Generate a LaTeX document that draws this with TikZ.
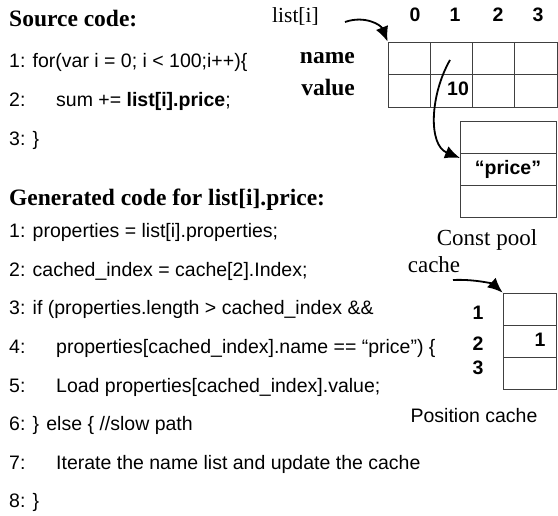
\documentclass[tikz,border=0pt]{standalone}
\usepackage{fontspec}
\setmainfont{Liberation Serif}
\setsansfont{Liberation Sans}
\usetikzlibrary{arrows.meta,calc}
\begin{document}
\begin{tikzpicture}[x=1pt,y=-1pt,
  code/.style={anchor=base west,inner sep=0pt,font=\sffamily\fontsize{19.5}{23}\selectfont},
  heading/.style={anchor=base west,inner sep=0pt,font=\rmfamily\bfseries\fontsize{23.5}{27}\selectfont},
  serif/.style={anchor=base,inner sep=0pt,font=\rmfamily\fontsize{23}{27}\selectfont},
  bserif/.style={anchor=base east,inner sep=0pt,font=\rmfamily\bfseries\fontsize{23.5}{27}\selectfont},
  bsans/.style={anchor=base,inner sep=0pt,font=\sffamily\bfseries\fontsize{19.5}{23}\selectfont},
  sans/.style={anchor=base,inner sep=0pt,font=\sffamily\fontsize{19.5}{23}\selectfont},
  cell/.style={draw=black!75,line width=0.8pt,rectangle,inner sep=0pt,minimum width=42.25pt,minimum height=32.5pt},
  pcell/.style={draw=black!75,line width=0.8pt,rectangle,inner sep=0pt,minimum width=96pt,minimum height=32pt,font=\sffamily\bfseries\fontsize{19.5}{23}\selectfont},
  ccell/.style={draw=black!75,line width=0.8pt,rectangle,inner sep=0pt,minimum width=53pt,minimum height=32pt},
  arr/.style={line width=1.8pt,-{Latex[length=15pt,width=13pt]}}
]
\useasboundingbox (0,0) rectangle (558,516);

% Source code
\node[heading] (h1) at (9,27) {Source code:};
\node[code] (s1) at (9,68) {1: for(var i = 0; i {\textless} 100;i++)\{};
\node[code] (s2) at (9,107) {\makebox[47pt][l]{2:}sum += \textbf{list[i].price};};
\node[code] (s3) at (9,145.5) {3: \}};

% Generated code
\node[heading] (h2) at (9,206) {Generated code for list[i].price:};
\node[code] (g1) at (9,238) {1: properties = list[i].properties;};
\node[code] (g2) at (9,276.5) {2: cached\_index = cache[2].Index;};
\node[code] (g3) at (9,315) {3: if (properties.length > cached\_index \&\&};
\node[code] (g4) at (9,353.5) {\makebox[47pt][l]{4:}properties[cached\_index].name == “price”) \{};
\node[code] (g5) at (9,392) {\makebox[47pt][l]{5:}Load properties[cached\_index].value;};
\node[code] (g6) at (9,430.5) {6: \} else \{ //slow path};
\node[code] (g7) at (9,469) {\makebox[47pt][l]{7:}Iterate the name list and update the cache};
\node[code] (g8) at (9,507.5) {8: \}};

% list table
\node[serif,anchor=base west,font=\rmfamily\fontsize{21.5}{25}\selectfont] (listi) at (272,23) {list[i]};
\node[bsans] (k0) at (415,22) {0};
\node[bsans] (k1) at (455,22) {1};
\node[bsans] (k2) at (498,22) {2};
\node[bsans] (k3) at (538,22) {3};
\node[bserif] (lname) at (355,64) {name};
\node[bserif] (lvalue) at (355,96) {value};
\foreach \i in {0,1,2,3}{
  \node[cell] (n\i) at ({388+42.25*\i+21.125},58.25) {};
  \node[cell] (v\i) at ({388+42.25*\i+21.125},90.75) {};
}
\node[bsans,anchor=base west] (ten) at (447,96) {10};

% const pool
\node[pcell] (p1) at (508,137) {};
\node[pcell] (p2) at (508,169) {“price”};
\node[pcell] (p3) at (508,201) {};
\node[serif] (cpool) at (487,246) {Const pool};

% position cache
\node[serif] (cachelbl) at (434,273) {cache};
\node[ccell] (c1) at (529.5,309) {};
\node[ccell] (c2) at (529.5,341) {};
\node[ccell] (c3) at (529.5,373) {};
\node[bsans] (r1) at (478,320) {1};
\node[bsans] (r2) at (478,351) {2};
\node[bsans] (r3) at (478,374) {3};
\node[bsans] (cv) at (540,347) {1};
\node[sans] (pcache) at (474,422) {Position cache};

% arrows
\coordinate (a1s) at (345,22);
\draw[arr] (a1s) .. controls (365,15) and (381,25) .. (n0.north west);
\coordinate (a2s) at (450,60);
\coordinate (a2e) at (460,158);
\draw[arr] (a2s) .. controls (430,95) and (428,145) .. (a2e);
\coordinate (a3s) at (453,280);
\draw[arr] (a3s) .. controls (475,279) and (493,284) .. (c1.north west);
\end{tikzpicture}
\end{document}
